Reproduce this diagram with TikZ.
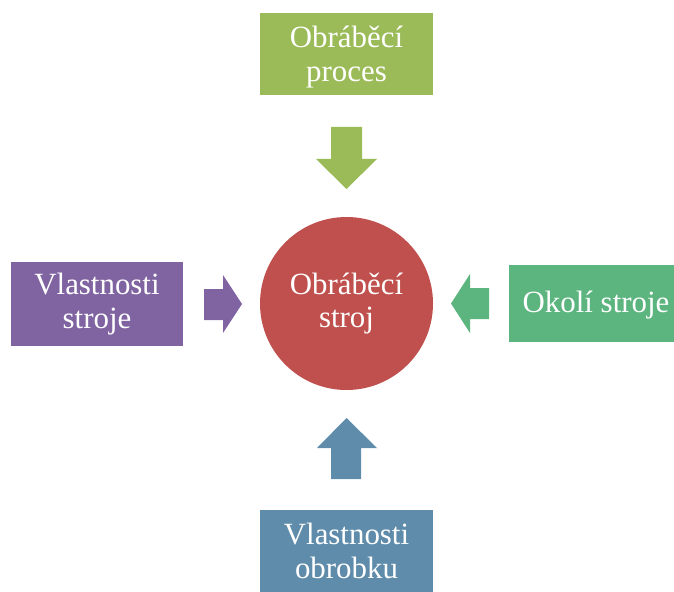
\documentclass[tikz,border=0pt]{standalone}
\usepackage{fontspec}
\setmainfont{Liberation Serif}
\definecolor{cgreen}{HTML}{9BBB59}
\definecolor{cred}{HTML}{C0504D}
\definecolor{cpurple}{HTML}{8064A2}
\definecolor{cteal}{HTML}{5CB47F}
\definecolor{cblue}{HTML}{5E8CAA}
\begin{document}
\begin{tikzpicture}[x=1bp,y=-1bp,
  box/.style={draw=none,text=white,align=center,inner sep=0pt,
    font=\fontsize{31}{34}\selectfont},
  arr/.style={draw=none}]
\useasboundingbox (0,0) rectangle (674,592);
\begin{scope}
\clip (0,0) rectangle (674,592);
% boxes
\fill[cgreen] (260,13) rectangle (433,95);
\node[box] (top) at (346.5,57) {Obráběcí\\proces};
\fill[cpurple] (11,262) rectangle (183,346);
\node[box] (left) at (97,304.5) {Vlastnosti\\stroje};
\fill[cteal] (509,265) rectangle (683,342);
\node[box] (right) at (596,305) {Okolí stroje};
\fill[cblue] (260,510) rectangle (433,600);
\node[box] (bottom) at (346.5,551) {Vlastnosti\\obrobku};
% circle
\fill[cred] (346.5,303.5) circle (86.5);
\node[box] (center) at (346.5,303.5) {Obráběcí\\stroj};
% arrows
\fill[cgreen] (331,127) -- (362,127) -- (362,159) -- (377,159) -- (346.5,189) -- (316,159) -- (331,159) -- cycle;
\fill[cblue] (331,479) -- (361,479) -- (361,448) -- (377,448) -- (346.5,418) -- (317,448) -- (331,448) -- cycle;
\fill[cpurple] (204,289) -- (223,289) -- (223,275) -- (242,304) -- (223,333) -- (223,320) -- (204,320) -- cycle;
\fill[cteal] (489,288) -- (470,288) -- (470,274) -- (451,303.5) -- (470,333) -- (470,319) -- (489,319) -- cycle;
\end{scope}
\end{tikzpicture}
\end{document}
